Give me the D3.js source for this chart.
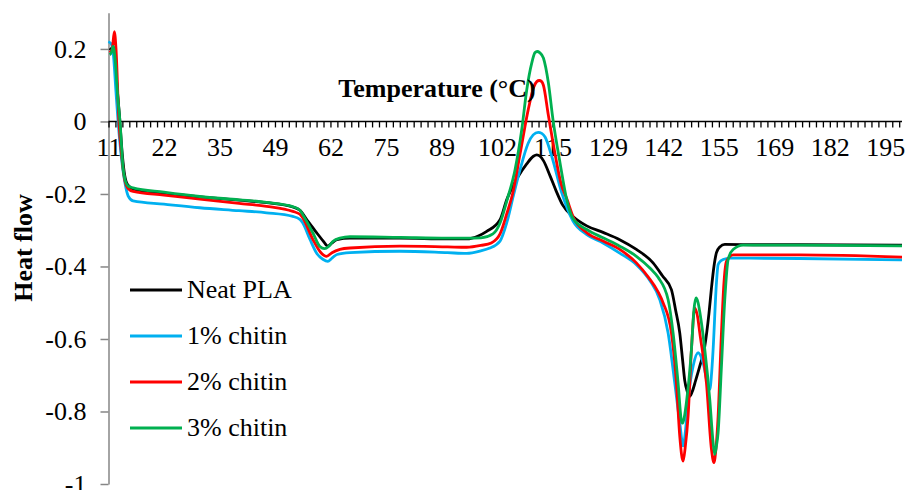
<!DOCTYPE html>
<html>
<head>
<meta charset="utf-8">
<script src="https://cdn.jsdelivr.net/npm/d3@7"></script>
<style>
  body { margin: 0; background: #fff; }
  svg { display: block; }
  text { font-family: "Liberation Serif", "Times New Roman", serif; fill: #000; }
</style>
</head>
<body>
<script>
// category labels of the x axis (temperature, °C)
const xLabels = ["11","22","35","49","62","75","89","102","115","129","142","155","169","182","195"];
const yTicks = [0.2, 0, -0.2, -0.4, -0.6, -0.8, -1];
const seriesNames = ["Neat PLA", "1% chitin", "2% chitin", "3% chitin"];
const seriesColors = ["#000000", "#00b0f0", "#ff0000", "#00b050"];

// [temperature, heat flow]
const neatPLA = [[9.0,0.197],[9.9,0.205],[10.5,0.13],[11.3,0.02],[12.0,-0.09],[12.6,-0.15],[13.3,-0.175],[14.6,-0.186],
  [22,-0.198],[30.6,-0.208],[40,-0.217],[46.6,-0.224],[52.9,-0.236],[54.6,-0.245],[56.5,-0.275],[58.5,-0.305],[60.2,-0.33],
  [61.3,-0.344],[62.3,-0.335],[63.5,-0.326],[66.6,-0.322],[78.6,-0.322],[90,-0.324],[94.6,-0.324],[97.5,-0.315],[99.4,-0.303],
  [102.6,-0.271],[104.2,-0.216],[106.95,-0.152],[109.0,-0.117],[110.6,-0.096],[111.4,-0.092],[112.2,-0.096],[113.0,-0.108],
  [114.6,-0.150],[116.0,-0.19],[117.6,-0.230],[120.1,-0.262],[123.4,-0.288],[127.3,-0.306],[131.3,-0.326],[135.3,-0.353],
  [139.3,-0.39],[141.5,-0.425],[143.7,-0.464],[144.7,-0.52],[145.7,-0.583],[146.4,-0.66],[146.9,-0.715],[147.5,-0.745],
  [148.1,-0.758],[148.7,-0.745],[149.5,-0.715],[150.5,-0.675],[151.7,-0.62],[152.7,-0.53],[153.3,-0.46],[153.9,-0.40],
  [154.5,-0.362],[155.3,-0.346],[156.5,-0.339],[165,-0.340],[174.5,-0.340],[199,-0.341]];

const chitin1 = [[8.65,0.22],[9.3,0.215],[9.9,0.18],[10.5,0.08],[11.0,0.0],[11.8,-0.10],[12.65,-0.17],[13.4,-0.205],[14.6,-0.219],
  [22,-0.228],[30.6,-0.238],[40,-0.246],[46.6,-0.252],[52.9,-0.262],[54.6,-0.27],[55.3,-0.280],[57.0,-0.325],[58.7,-0.365],
  [60.1,-0.380],[61.3,-0.386],[62.2,-0.378],[63.5,-0.367],[66.6,-0.362],[78.6,-0.358],[90,-0.362],[94.6,-0.364],[98,-0.357],
  [100,-0.35],[102.6,-0.330],[104.2,-0.28],[105.8,-0.205],[107.4,-0.133],[109.35,-0.060],[110.55,-0.037],[111.75,-0.030],
  [112.6,-0.033],[113.4,-0.043],[115.0,-0.096],[117.4,-0.197],[120.1,-0.275],[123.4,-0.312],[127.3,-0.335],[131.3,-0.363],
  [135.3,-0.395],[138.6,-0.44],[140.9,-0.491],[142.9,-0.583],[144.5,-0.721],[145.7,-0.831],[146.5,-0.895],[147.1,-0.85],
  [147.7,-0.767],[148.9,-0.675],[150.1,-0.638],[151.3,-0.666],[152.5,-0.730],[152.9,-0.739],[153.3,-0.70],[153.7,-0.629],
  [154.5,-0.445],[154.9,-0.395],[155.5,-0.385],[156.1,-0.381],[157.7,-0.377],[174.5,-0.378],[199,-0.382]];

const chitin2 = [[9.0,0.19],[9.6,0.20],[10.1,0.248],[10.5,0.20],[11.2,0.0],[11.9,-0.10],[12.65,-0.165],[13.4,-0.185],[14.6,-0.193],
  [22,-0.203],[30.6,-0.214],[40,-0.226],[46.6,-0.234],[52.9,-0.248],[54.6,-0.256],[55.3,-0.266],[57.7,-0.325],[59.5,-0.36],
  [61.0,-0.372],[62.3,-0.362],[64.2,-0.353],[66.6,-0.349],[78.6,-0.344],[90,-0.346],[94.6,-0.347],[98,-0.342],[100.5,-0.335],
  [102.6,-0.310],[104.2,-0.255],[105.6,-0.2],[107.4,-0.09],[109.35,0.032],[110.7,0.095],[111.4,0.11],[112.0,0.113],[112.6,0.11],
  [113.0,0.100],[114.15,0.02],[115.75,-0.087],[117.2,-0.17],[118.7,-0.216],[120.1,-0.262],[123.4,-0.307],[127.3,-0.330],
  [131.3,-0.353],[135.3,-0.39],[138.2,-0.43],[140.5,-0.47],[141.7,-0.50],[143.7,-0.583],[144.9,-0.721],[145.7,-0.868],
  [146.5,-0.937],[147.0,-0.9],[147.7,-0.813],[148.5,-0.629],[149.3,-0.514],[150.0,-0.54],[150.5,-0.583],[152.1,-0.721],
  [153.3,-0.904],[153.9,-0.941],[154.4,-0.9],[154.9,-0.813],[155.7,-0.583],[156.3,-0.445],[156.9,-0.386],[158.5,-0.368],
  [174.5,-0.368],[199,-0.374]];

const chitin3 = [[9.0,0.184],[9.4,0.19],[9.8,0.207],[10.3,0.17],[10.9,0.07],[11.45,0.0],[12.2,-0.13],[12.65,-0.16],[13.4,-0.178],
  [14.6,-0.183],[22,-0.195],[30.6,-0.207],[40,-0.216],[46.6,-0.223],[52.9,-0.235],[54.6,-0.245],[55.3,-0.257],[57.7,-0.307],
  [59.4,-0.345],[60.5,-0.351],[61.5,-0.345],[62.5,-0.331],[64.2,-0.322],[66.6,-0.318],[78.6,-0.320],[90,-0.322],[94.6,-0.322],
  [98,-0.321],[100.9,-0.31],[102.6,-0.28],[104.3,-0.216],[106.2,-0.133],[107.8,-0.023],[109.0,0.087],[110.2,0.161],[111.0,0.19],
  [111.5,0.193],[112.1,0.19],[113.0,0.175],[114.2,0.106],[115.3,0.005],[117.0,-0.115],[118.6,-0.216],[120.1,-0.268],
  [123.4,-0.298],[127.3,-0.321],[131.3,-0.344],[135.3,-0.372],[138.6,-0.405],[140.5,-0.43],[142.9,-0.491],[144.1,-0.583],
  [145.3,-0.721],[146.1,-0.825],[146.4,-0.832],[146.8,-0.815],[147.3,-0.775],[148.5,-0.629],[149.1,-0.52],[149.6,-0.487],
  [150.1,-0.50],[150.5,-0.525],[151.7,-0.629],[152.9,-0.767],[153.7,-0.886],[154.1,-0.918],[154.5,-0.895],[154.9,-0.858],
  [155.7,-0.675],[156.5,-0.491],[157.3,-0.381],[158.5,-0.353],[160.9,-0.341],[174.5,-0.341],[199,-0.343]];

const allSeries = [neatPLA, chitin1, chitin2, chitin3];

var w = 912, h = 490;
var svg = d3.select("body").append("svg").attr("width", w).attr("height", h);

// scales
var x = d3.scaleLinear().domain([8.7, 199]).range([108.5, 902]);
var y = d3.scaleLinear().domain([-1, 0.3]).range([484, 12.7]);
// label slots: first label at the axis origin, last at 195
var slot = d3.scaleLinear().domain([0, xLabels.length - 1]).range([x(8.7), x(195)]);

// y axis
var yAxis = d3.axisLeft(y)
  .tickValues(yTicks)
  .tickSize(8)
  .tickSizeOuter(0)
  .tickPadding(14)
  .tickFormat(d => String(+d.toFixed(1)));
var gy = svg.append("g").attr("transform", `translate(${x(8.7)},0)`).call(yAxis);
gy.select(".domain").attr("stroke", "#868686").attr("stroke-width", 1.5);
gy.selectAll(".tick line").attr("stroke", "#868686").attr("stroke-width", 1.5);
gy.selectAll("text").attr("font-size", 26).attr("font-family", "Liberation Serif");

// x axis at y = 0 : minor ticks every 1/8 slot
var minor = d3.range(0, (x.range()[1] - x(8.7)) / (slot(1) - slot(0)) + 0.001, 1 / 8);
var gx = svg.append("g").attr("transform", `translate(0,${y(0)})`);
gx.call(d3.axisBottom(slot).tickValues(minor).tickSize(6).tickSizeOuter(0).tickFormat(""));
gx.select(".domain").attr("d", `M${x(8.7)},0H${x.range()[1]}`).attr("stroke", "#000").attr("stroke-width", 1.5);
gx.selectAll(".tick line").attr("stroke", "#000").attr("stroke-width", 1.3);

var gl = svg.append("g").attr("transform", `translate(0,${y(0)})`);
gl.call(d3.axisBottom(slot).tickValues(d3.range(xLabels.length)).tickSize(0).tickPadding(16)
  .tickFormat(i => xLabels[i]));
gl.select(".domain").remove();
gl.selectAll("text").attr("font-size", 26).attr("font-family", "Liberation Serif");

// lines
var line = d3.line().x(d => x(d[0])).y(d => y(d[1])).curve(d3.curveMonotoneX);
svg.selectAll(".series")
  .data(allSeries)
  .enter()
  .append("path")
  .attr("class", "series")
  .attr("d", line)
  .attr("fill", "none")
  .attr("stroke", (d, i) => seriesColors[i])
  .attr("stroke-width", 2.8)
  .attr("stroke-linejoin", "round");

// titles
svg.append("text")
  .attr("x", 437).attr("y", 97)
  .attr("text-anchor", "middle")
  .attr("font-size", 26).attr("font-weight", "bold")
  .text("Temperature (°C)");

svg.append("text")
  .attr("transform", "translate(32,248) rotate(-90)")
  .attr("text-anchor", "middle")
  .attr("font-size", 26).attr("font-weight", "bold")
  .text("Heat flow");

// legend
var legend = svg.selectAll(".legend")
  .data(seriesNames)
  .enter()
  .append("g")
  .attr("class", "legend")
  .attr("transform", (d, i) => `translate(130,${290 + i * 46})`);
legend.append("line")
  .attr("x1", 0).attr("x2", 52)
  .attr("stroke", (d, i) => seriesColors[i])
  .attr("stroke-width", 2.8);
legend.append("text")
  .attr("x", 57).attr("y", 8)
  .attr("font-size", 26)
  .text(d => d);
</script>
</body>
</html>
